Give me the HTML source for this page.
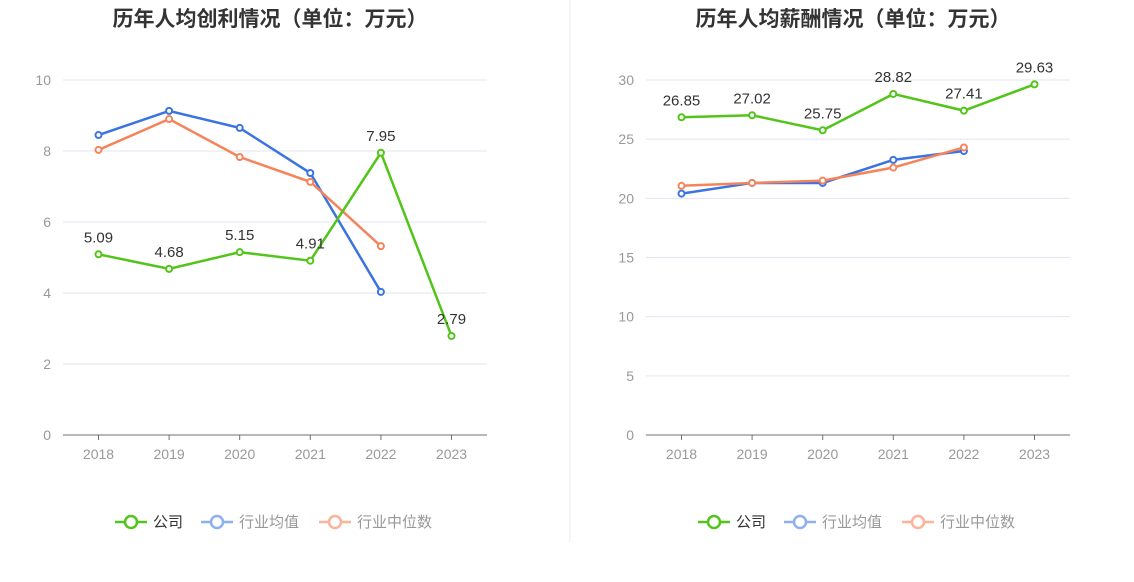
<!DOCTYPE html>
<html><head><meta charset="utf-8">
<style>
body{margin:0;background:#fff;font-family:"Liberation Sans","Noto Sans CJK SC",sans-serif;}
svg{display:block}
</style></head>
<body>
<svg id="c" width="1134" height="582"></svg>
<script>
const years=['2018','2019','2020','2021','2022','2023'];
const profitCompany=[5.09,4.68,5.15,4.91,7.95,2.79];
const profitAvg=[8.45,9.13,8.65,7.38,4.03];
const profitMedian=[8.03,8.9,7.83,7.13,5.32];
const profitTicks=[0,2,4,6,8,10];
const salaryCompany=[26.85,27.02,25.75,28.82,27.41,29.63];
const salaryAvg=[20.4,21.3,21.3,23.25,24.0];
const salaryMedian=[21.06,21.3,21.5,22.6,24.3];
const salaryTicks=[0,5,10,15,20,25,30];
const titles=['历年人均创利情况（单位：万元）','历年人均薪酬情况（单位：万元）'];

const NS='http://www.w3.org/2000/svg';
const svg=document.getElementById('c');
function el(t,a,p){const e=document.createElementNS(NS,t);for(const k in a)e.setAttribute(k,a[k]);(p||svg).appendChild(e);return e;}
const G='#52c41a',B='#3a74e0',O='#f5845a';

const div=el('line',{x1:570,y1:0,x2:570,y2:542,stroke:'#e8e8e8'});



function panel(ox,title,ticks,max,comp,avg,med,prefix){
  const g=el('g',{});
  
  
  const x0=ox,x1=ox+424,y0=435,yTop=80;
  const sx=i=>x0+35.5+i*70.6;
  const sy=v=>y0-(v/max)*(y0-yTop);
  const t=el('text',{x:ox+207,y:26,'text-anchor':'middle','font-size':21,'font-weight':'bold',fill:'#333'},g);
  t.textContent=title;
  
  
  ticks.forEach(v=>{
    const y=sy(v);
    if(v>0){const l=el('line',{x1:x0,x2:x1,y1:y,y2:y,stroke:'#e0e6f1'},g);
      }
    const tx=el('text',{x:x0-12,y:y+5,'text-anchor':'end','font-size':14,fill:'#999'},g);
    tx.textContent=v;
    
    
  });
  const ax=el('line',{x1:x0,x2:x1,y1:y0,y2:y0,stroke:'#6e7079'},g);
  
  years.forEach((yr,i)=>{
    const tk=el('line',{x1:sx(i),x2:sx(i),y1:y0,y2:y0+5,stroke:'#6e7079'},g);
    
    const tx=el('text',{x:sx(i),y:y0+24,'text-anchor':'middle','font-size':14,fill:'#999'},g);
    tx.textContent=yr;
    
    
  });
  function series(vals,col,name,labels){
    const pl=el('polyline',{points:vals.map((v,i)=>sx(i)+','+sy(v)).join(' '),fill:'none',stroke:col,'stroke-width':2.5},g);
    
    
    vals.forEach((v,i)=>{
      const c=el('circle',{cx:sx(i),cy:sy(v),r:3,fill:'#fff',stroke:col,'stroke-width':2},g);
      
      
      if(labels){
        const tx=el('text',{x:sx(i),y:sy(v)-12,'text-anchor':'middle','font-size':15,fill:'#333'},g);
        tx.textContent=v.toFixed(2);
        
        
      }
    });
  }
  series(avg,B,'industry-average',false);
  series(med,O,'industry-median',false);
  series(comp,G,'company',true);
  // legend
  const items=[['公司',G,'#333'],['行业均值','#8fb0f0','#999'],['行业中位数','#fbb39a','#999']];
  let lx=ox+52;
  const widths=[86,118,0];
  items.forEach((it,k)=>{
    const lg=el('g',{},g);
    
    
    el('line',{x1:lx,x2:lx+32,y1:522,y2:522,stroke:it[1],'stroke-width':2.5},lg);
    el('circle',{cx:lx+16,cy:522,r:6,fill:'#fff',stroke:it[1],'stroke-width':2.5},lg);
    const tx=el('text',{x:lx+38,y:527,'font-size':15,fill:it[2]},lg);
    tx.textContent=it[0];
    lx+=widths[k];
  });
}
panel(63,titles[0],profitTicks,10,profitCompany,profitAvg,profitMedian,'profit');
panel(646,titles[1],salaryTicks,30,salaryCompany,salaryAvg,salaryMedian,'salary');
</script>
</body></html>
